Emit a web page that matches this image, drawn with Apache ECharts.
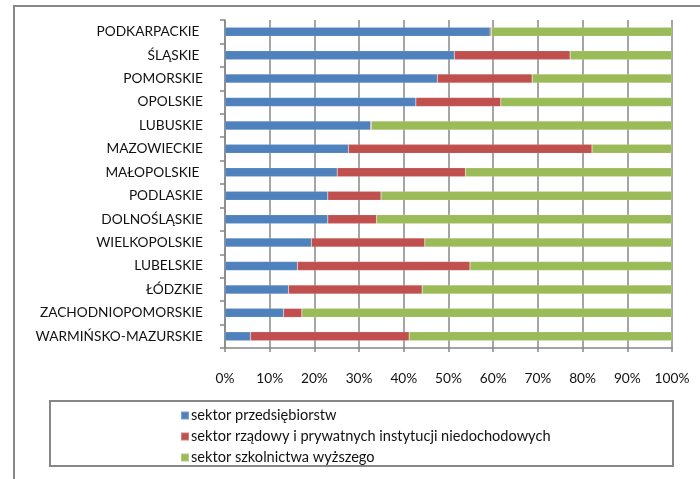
<!DOCTYPE html>
<html>
<head>
<meta charset="utf-8">
<script src="https://cdn.jsdelivr.net/npm/echarts@6/dist/echarts.min.js"></script>
<style>
  html, body { margin: 0; padding: 0; background: #fff; }
  #chart { width: 700px; height: 479px; }
</style>
</head>
<body>
<div id="chart"></div>
<script>
// Regions, top to bottom
const regions = [
  'PODKARPACKIE ', 'ŚLĄSKIE ', 'POMORSKIE', 'OPOLSKIE', 'LUBUSKIE',
  'MAZOWIECKIE', 'MAŁOPOLSKIE ', 'PODLASKIE', 'DOLNOŚLĄSKIE', 'WIELKOPOLSKIE',
  'LUBELSKIE', 'ŁÓDZKIE', 'ZACHODNIOPOMORSKIE', 'WARMIŃSKO-MAZURSKIE'
];

// Share of each sector (%)
const enterprise = [59.3, 51.3, 47.5, 42.7, 32.6, 27.6, 25.1, 23.0, 23.0, 19.3, 16.2, 14.2, 13.1, 5.7];
const government = [0.3, 25.9, 21.2, 19.0, 0.2, 54.5, 28.7, 11.9, 10.9, 25.4, 38.6, 29.9, 4.1, 35.5];
const higherEdu  = [40.4, 22.8, 31.3, 38.3, 67.2, 17.9, 46.2, 65.1, 66.1, 55.3, 45.2, 55.9, 82.8, 58.8];

const seriesNames = [
  'sektor przedsiębiorstw',
  'sektor rządowy i prywatnych instytucji niedochodowych',
  'sektor szkolnictwa wyższego'
];
const xTicks = [0, 10, 20, 30, 40, 50, 60, 70, 80, 90, 100];

const FONT = 'Lato, "Open Sans", sans-serif';
const GRAY = '#878787';

const chart = echarts.init(document.getElementById('chart'), null, { renderer: 'canvas' });

const bar = (name, data, color) => ({
  name, type: 'bar', stack: 'total', data, barWidth: 9,
  itemStyle: { color, borderColor: 'rgba(255,255,255,0.25)', borderWidth: 0.5 },
  emphasis: { disabled: true }
});

chart.setOption({
  animation: false,
  color: ['#4F81BD', '#C0504D', '#9BBB59'],
  grid: { left: 225, right: 28, top: 20, bottom: 131, containLabel: false },
  xAxis: {
    type: 'value', min: xTicks[0], max: xTicks[xTicks.length - 1], interval: 10,
    axisLine: { show: true, lineStyle: { color: GRAY, width: 1.5 } },
    axisTick: { show: true, length: 4, lineStyle: { color: GRAY, width: 1.5 } },
    splitLine: { show: true, lineStyle: { color: GRAY, width: 1.5 } },
    axisLabel: { formatter: '{value}%', color: '#111', fontFamily: FONT, fontSize: 13.7, margin: 24 }
  },
  yAxis: {
    type: 'category', data: regions, inverse: true,
    axisLine: { show: true, lineStyle: { color: GRAY, width: 1.5 } },
    axisTick: { show: true, length: 5, lineStyle: { color: GRAY, width: 1.5 } },
    axisLabel: { color: '#111', fontFamily: FONT, fontSize: 13.7, margin: 22 }
  },
  legend: {
    orient: 'vertical', left: 175, top: 403,
    itemWidth: 8, itemHeight: 8, itemGap: 6,
    icon: 'rect', selectedMode: false,
    textStyle: { color: '#111', fontFamily: FONT, fontSize: 14.6, lineHeight: 15, padding: [0, 0, 0, -3] },
    data: seriesNames
  },
  graphic: [
    { type: 'rect', shape: { x: 14, y: 6, width: 720, height: 500 }, style: { fill: 'none', stroke: GRAY, lineWidth: 2 }, silent: true },
    { type: 'rect', shape: { x: 50, y: 401, width: 623, height: 65 }, style: { fill: 'none', stroke: GRAY, lineWidth: 2 }, silent: true }
  ],
  series: [
    bar(seriesNames[0], enterprise, '#4F81BD'),
    bar(seriesNames[1], government, '#C0504D'),
    bar(seriesNames[2], higherEdu, '#9BBB59')
  ]
});
</script>
</body>
</html>
